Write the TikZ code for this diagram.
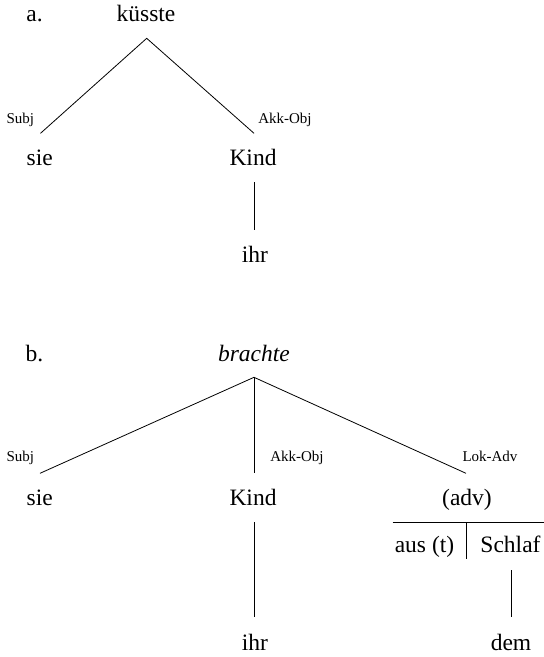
\documentclass[tikz,border=0pt]{standalone}
\usepackage{fontspec}
\setmainfont{Liberation Serif}
\begin{document}
\begin{tikzpicture}[x=1pt,y=-1pt,
  word/.style={anchor=base,inner sep=0pt,font=\fontsize{23.5}{28}\selectfont},
  rel/.style={anchor=base,inner sep=0pt,font=\fontsize{15}{18}\selectfont},
  edge/.style={line width=0.8pt,black}]
\useasboundingbox (0,0) rectangle (544,657);

% ---- (a) küsste ----
\node[word] (la) at (34.5,21.7) {a.};
\node[word] (kuesste) at (146,21.7) {küsste};
\coordinate (ta) at (146.7,38.3);
\coordinate (sa) at (40.5,133.3);
\coordinate (ka) at (254,133.3);
\draw[edge] (sa) -- (ta) -- (ka);
\node[rel] (subja) at (20.3,123.3) {Subj};
\node[rel] (akka) at (285,123.3) {Akk-Obj};
\node[word] (siea) at (39.7,165) {sie};
\node[word] (kinda) at (253,165) {Kind};
\coordinate (kinda1) at (254,182);
\coordinate (kinda2) at (254,230);
\draw[edge] (kinda1) -- (kinda2);
\node[word] (ihra) at (255,262) {ihr};

% ---- (b) brachte ----
\node[word] (lb) at (34.5,361) {b.};
\node[word] (brachte) at (254,361) {\itshape brachte};
\coordinate (tb) at (254,377.3);
\coordinate (sb) at (40,473.3);
\coordinate (kb) at (254,473.3);
\coordinate (ab) at (466,473.3);
\draw[edge] (sb) -- (tb) -- (ab);
\draw[edge] (tb) -- (kb);
\node[rel] (subjb) at (20.3,461.7) {Subj};
\node[rel] (akkb) at (297,461.7) {Akk-Obj};
\node[rel] (lokb) at (490,461.7) {Lok-Adv};
\node[word] (sieb) at (39.7,505) {sie};
\node[word] (kindb) at (253,505) {Kind};
\node[word] (adv) at (467,505) {(adv)};
% translative bar under (adv)
\coordinate (barl) at (392.7,522.3);
\coordinate (barr) at (544,522.3);
\coordinate (bart) at (466.7,522.3);
\coordinate (barb) at (466.7,559);
\draw[edge] (barl) -- (barr);
\draw[edge] (bart) -- (barb);
\node[word] (aus) at (424.5,552.7) {aus (t)};
\node[word] (schlaf) at (510.5,552.7) {Schlaf};
\coordinate (kindb1) at (254,522.3);
\coordinate (kindb2) at (254,616.7);
\draw[edge] (kindb1) -- (kindb2);
\coordinate (schlaf1) at (511.7,570);
\coordinate (schlaf2) at (511.7,616.7);
\draw[edge] (schlaf1) -- (schlaf2);
\node[word] (ihrb) at (255,650.7) {ihr};
\node[word] (dem) at (511,650.7) {dem};
\end{tikzpicture}
\end{document}
